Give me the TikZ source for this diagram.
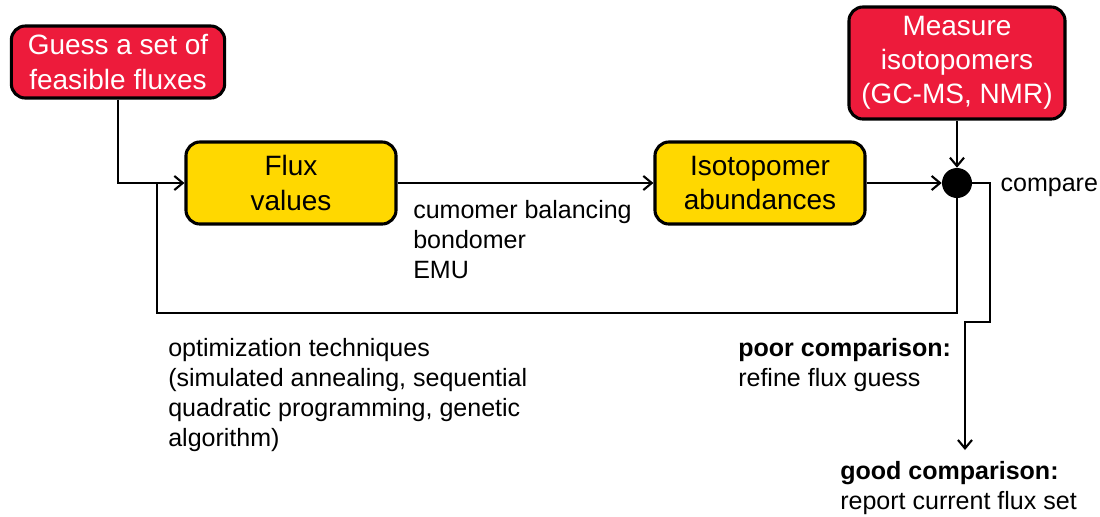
\documentclass[tikz,border=0pt]{standalone}
\usepackage{fontspec}
\setmainfont{Liberation Sans}
\usepackage{tikz}
\usetikzlibrary{arrows.meta,positioning}
\definecolor{boxred}{RGB}{237,27,59}
\definecolor{boxyellow}{RGB}{255,216,0}

\begin{document}
\begin{tikzpicture}[x=0.025cm,y=-0.025cm,
		redbox/.style={draw,line width=2.2pt,rounded corners=0.35cm,fill=boxred,text=white,align=center,font=\fontsize{19.9}{24.2}\selectfont,inner sep=0},
		yellowbox/.style={draw,line width=2.2pt,rounded corners=0.35cm,fill=boxyellow,align=center,font=\fontsize{19.9}{24.2}\selectfont,inner sep=0,minimum width=5.25cm,minimum height=2.05cm},
		lbl/.style={align=left,inner sep=0,font=\fontsize{17.8}{21.3}\selectfont},
		conn/.style={line width=1.5pt,-{Straight Barb[length=6pt,width=10pt]}}]
				\useasboundingbox (0,0) rectangle (1100,516);
				\node[redbox,minimum width=5.33cm,minimum height=1.8cm] (guess) at (118,62) {Guess a set of\\feasible fluxes};
				\node[yellowbox] (flux) at (291,183) {Flux\\values};
				\node[yellowbox] (iso) at (760,183) {Isotopomer\\abundances};
				\node[redbox,minimum width=5.4cm,minimum height=2.8cm] (meas) at (957,63) {Measure\\isotopomers\\(GC-MS, NMR)};
				\node[circle,fill,inner sep=0,minimum size=0.75cm] (cmp) at (957,183) {};
				\node[lbl,right=0.7cm of cmp,yshift=-0.1cm] (cmplbl) {compare};
				
				\coordinate (loop) at (157,313);
				\coordinate (bend) at (990,322);
				\coordinate (out) at (965,450);
				
				\draw[conn] (guess.south) |- (flux.west);
				\draw[conn] (flux) -- (iso);
				\draw[conn] (iso) -- (cmp);
				\draw[conn] (meas) -- (cmp);
				\draw[line width=1.5pt] (cmp.south) |- (loop) -- (loop |- flux.west);
				\draw[conn] (cmp.east) -| (bend) -| (out);
				
				\node[lbl,anchor=north west] (methods) at (413,200) {cumomer balancing\\bondomer\\EMU};
				\node[lbl,anchor=north west] (optim) at (168,338) {optimization techniques\\(simulated annealing, sequential\\quadratic programming, genetic\\algorithm)};
				\node[lbl,anchor=north west] (poor) at (738,338) {\textbf{poor comparison:}\\refine flux guess};
				\node[lbl,anchor=north west] (good) at (840,461) {\textbf{good comparison:}\\report current flux set};
			\end{tikzpicture}
\end{document}
